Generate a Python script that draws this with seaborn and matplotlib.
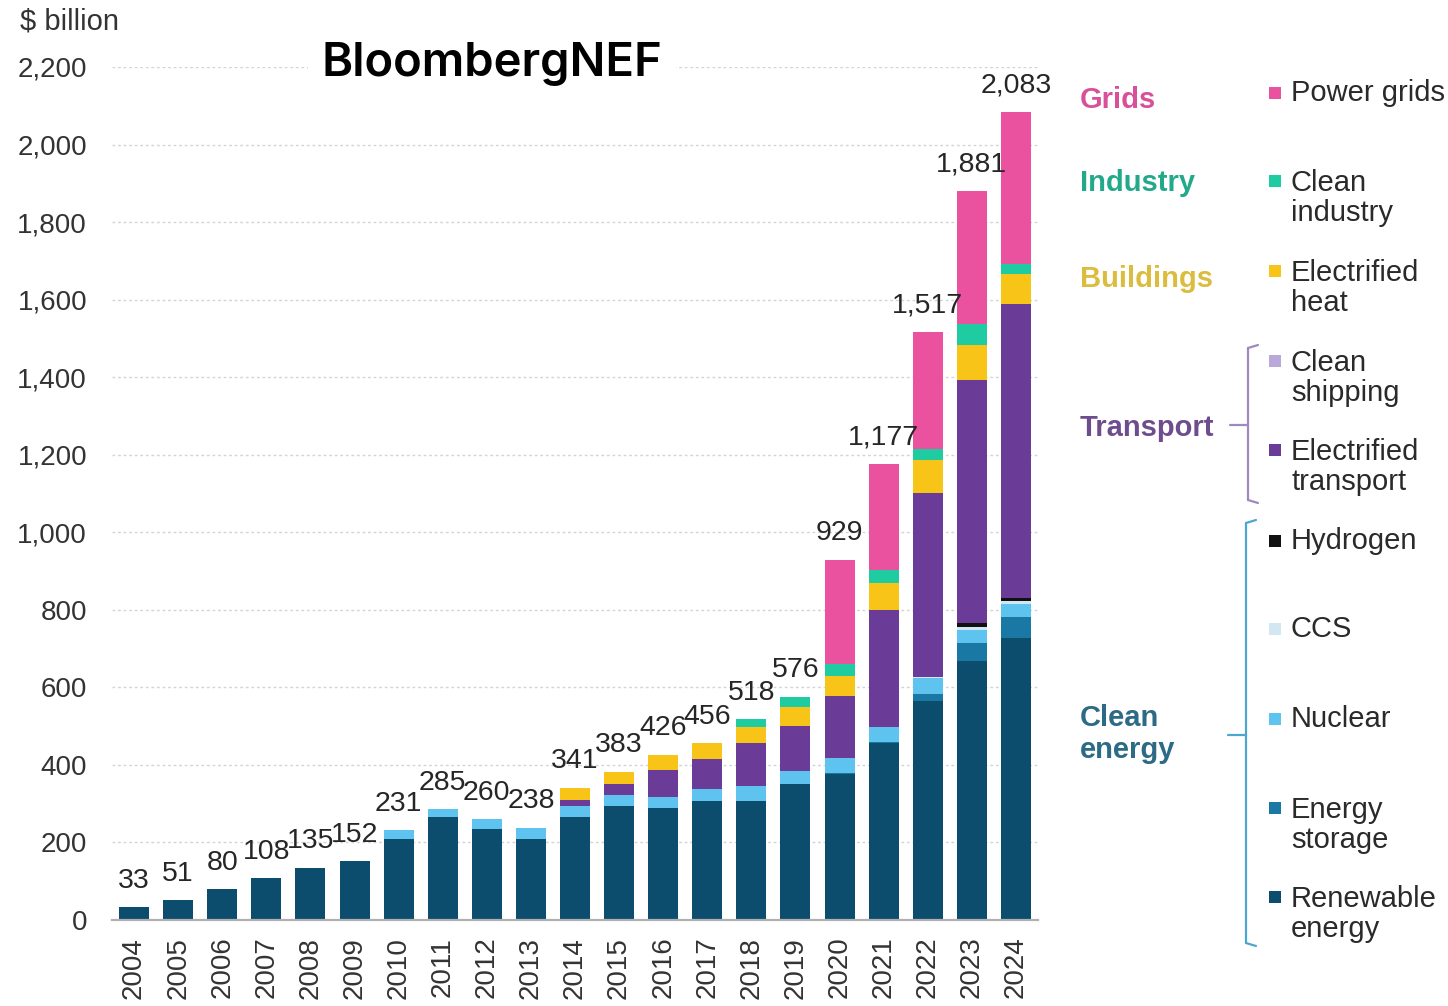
import matplotlib
matplotlib.use("Agg")
import matplotlib.pyplot as plt
from matplotlib.lines import Line2D
from matplotlib.patches import Rectangle
import numpy as np
import pandas as pd
import seaborn as sns

# Energy-transition investment by sector, $ billion
years = [str(y) for y in range(2004, 2025)]
renewable_energy = [33, 51, 80, 108, 135, 152, 209, 266, 234, 209, 265, 293, 290, 308, 306, 351, 377, 456, 565, 668, 728]
energy_storage = [0, 0, 0, 0, 0, 0, 0, 0, 0, 0, 0, 0, 0, 0, 0, 0, 3, 4, 17, 47, 54]
nuclear = [0, 0, 0, 0, 0, 0, 22, 19, 26, 29, 30, 30, 28, 30, 39, 34, 39, 39, 43, 33, 34]
ccs = [0, 0, 0, 0, 0, 0, 0, 0, 0, 0, 0, 0, 0, 0, 0, 0, 0, 0, 1, 7, 6]
hydrogen = [0, 0, 0, 0, 0, 0, 0, 0, 0, 0, 0, 0, 0, 0, 0, 0, 0, 0, 1, 11, 8]
clean_shipping = [0, 0, 0, 0, 0, 0, 0, 0, 0, 0, 0, 0, 0, 0, 0, 0, 0, 0, 0, 1, 1]
electrified_transport = [0, 0, 0, 0, 0, 0, 0, 0, 0, 0, 15, 28, 70, 76, 112, 116, 159, 301, 473, 627, 757]
electrified_heat = [0, 0, 0, 0, 0, 0, 0, 0, 0, 0, 31, 32, 38, 42, 40, 49, 52, 69, 86, 90, 77]
clean_industry = [0, 0, 0, 0, 0, 0, 0, 0, 0, 0, 0, 0, 0, 0, 21, 26, 30, 34, 30, 52, 28]
power_grids = [0, 0, 0, 0, 0, 0, 0, 0, 0, 0, 0, 0, 0, 0, 0, 0, 269, 274, 301, 345, 390]

series_names = ["Renewable energy", "Energy storage", "Nuclear", "CCS", "Hydrogen",
                "Clean shipping", "Electrified transport", "Electrified heat",
                "Clean industry", "Power grids"]
series_values = [renewable_energy, energy_storage, nuclear, ccs, hydrogen,
                 clean_shipping, electrified_transport, electrified_heat,
                 clean_industry, power_grids]
series_colors = ["#0c4d6e", "#1a79a4", "#5ec3ee", "#d2e7f1", "#111111",
                 "#b9a8d9", "#6a3b97", "#f9c418", "#1fcca2", "#ea519e"]

y_ticks = [0, 200, 400, 600, 800, 1000, 1200, 1400, 1600, 1800, 2000, 2200]

df = pd.DataFrame(dict(zip(series_names, series_values)), index=years)
cum = df.cumsum(axis=1)
totals = df.sum(axis=1)

sns.set_theme(style="white")
plt.rcParams["font.family"] = ["Liberation Sans", "DejaVu Sans"]

W, H = 1448, 1006
fig = plt.figure(figsize=(W / 100, H / 100), dpi=100)
ax = fig.add_axes([112 / W, 86 / H, (1038 - 112) / W, (920 - 67) / H])

def fx(px):
    return px / W

def fy(py):
    return 1 - py / H

# Stacked bars: draw cumulative heights from the top layer down
for name, color in reversed(list(zip(series_names, series_colors))):
    sns.barplot(x=years, y=cum[name].values, color=color, saturation=1,
                width=0.68, linewidth=0, ax=ax, zorder=3)

for i, yr in enumerate(years):
    ax.annotate(f"{int(totals[yr]):,}", xy=(i, totals[yr]), xytext=(0, 14),
                textcoords="offset points", ha="center", va="baseline",
                fontsize=20.5, color="#262626", zorder=5)

ax.set_xlim(-0.5, len(years) - 0.5)
ax.set_ylim(0, 2200)
ax.set_yticks(y_ticks)
ax.set_yticklabels([f"{v:,}" for v in y_ticks])
ax.tick_params(axis="y", length=0, pad=18, labelsize=20, labelcolor="#333333")
ax.tick_params(axis="x", length=0, pad=12, labelsize=20, labelcolor="#333333",
               labelrotation=90)
ax.set_xlabel("")
ax.set_ylabel("")
ax.yaxis.grid(True, linestyle=(0, (2, 2)), color="#d4d4d4", linewidth=1.0)
ax.xaxis.grid(False)
ax.set_axisbelow(True)
for s in ["top", "right", "left"]:
    ax.spines[s].set_visible(False)
ax.spines["bottom"].set_color("#b0b0b0")
ax.spines["bottom"].set_linewidth(1.6)
ax.spines["bottom"].set_zorder(4)

fig.text(fx(20), fy(22), "$ billion", fontsize=21, color="#333333",
         ha="left", va="center")
fig.text(fx(492), fy(64), "BloombergNEF", fontsize=34, fontweight="semibold",
         family=["Inter", "DejaVu Sans"], color="black", ha="center", va="center",
         bbox=dict(facecolor="white", edgecolor="none", pad=10))

# Sector group labels
groups = [("Grids", 100, "#d8509a"), ("Industry", 183, "#22a98a"),
          ("Buildings", 279, "#dcbc3c"), ("Transport", 428, "#6e4d8e"),
          ("Clean\nenergy", 734, "#2c6a86")]
for text, py, color in groups:
    fig.text(fx(1080), fy(py), text, fontsize=21, fontweight="bold", color=color,
             ha="left", va="center", linespacing=1.15)

# Legend entries
legend_items = [("Power grids", 93, "#ea519e"),
                ("Clean\nindustry", 198, "#1fcca2"),
                ("Electrified\nheat", 288, "#f9c418"),
                ("Clean\nshipping", 378, "#b9a8d9"),
                ("Electrified\ntransport", 467, "#6a3b97"),
                ("Hydrogen", 541, "#111111"),
                ("CCS", 629, "#d2e7f1"),
                ("Nuclear", 719, "#5ec3ee"),
                ("Energy\nstorage", 825, "#1a79a4"),
                ("Renewable\nenergy", 914, "#0c4d6e")]
for text, py, color in legend_items:
    n_lines = text.count("\n") + 1
    fig.text(fx(1291), fy(py), text, fontsize=21, color="#2a2a2a",
             ha="left", va="center", linespacing=1.1)
    first_line = py - (n_lines - 1) * 17
    fig.patches.append(Rectangle((fx(1269), fy(first_line + 6)), 12 / W, 12 / H,
                                 transform=fig.transFigure, facecolor=color,
                                 edgecolor="none"))

# Brackets grouping the legend entries
def bracket(x, y0, y1, ymid, color):
    kw = dict(transform=fig.transFigure, color=color, linewidth=1.6)
    fig.add_artist(Line2D([fx(x), fx(x)], [fy(y0), fy(y1)], **kw))
    fig.add_artist(Line2D([fx(x), fx(x + 10)], [fy(y0), fy(y0 - 3)], **kw))
    fig.add_artist(Line2D([fx(x), fx(x + 10)], [fy(y1), fy(y1 + 3)], **kw))
    fig.add_artist(Line2D([fx(x - 18), fx(x)], [fy(ymid), fy(ymid)], **kw))

bracket(1248, 348, 500, 425, "#a388bd")
bracket(1246, 523, 943, 735, "#4da6d2")

fig.savefig("out.png", dpi=100)
